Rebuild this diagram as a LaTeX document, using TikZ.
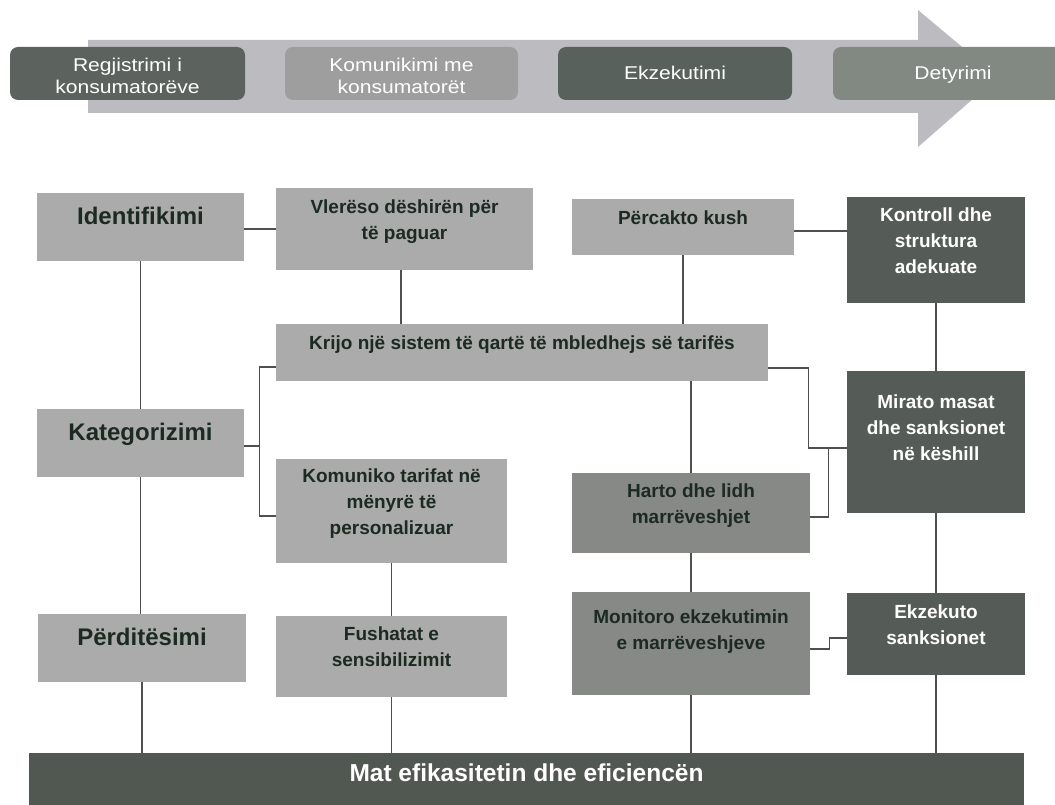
\documentclass[tikz,border=0pt]{standalone}
\usepackage{fontspec}
\setmainfont{Liberation Sans}
\definecolor{lightf}{HTML}{ABABAB}
\definecolor{midf}{HTML}{878987}
\definecolor{darkf}{HTML}{555B56}
\definecolor{matf}{HTML}{515852}
\definecolor{darktext}{HTML}{1C2A22}
\definecolor{linec}{HTML}{4F4F4F}
\definecolor{bandc}{HTML}{BCBCC0}
\definecolor{topa}{HTML}{5C635E}
\definecolor{topb}{HTML}{9E9E9E}
\definecolor{topc}{HTML}{58615B}
\definecolor{topd}{HTML}{828882}
\newcommand\bt[2][3.5pt]{\raisebox{#1}[0pt][0pt]{\begin{tabular}{@{}c@{}}#2\end{tabular}}}
\newcommand\toptxt[2][-6pt]{\raisebox{#1}[0pt][0pt]{\scalebox{1.14}[1]{\begin{tabular}{@{}c@{}}#2\end{tabular}}}}
\tikzset{
  conn/.style={draw=linec, line width=1.3pt},
  bx/.style={rectangle, inner sep=0pt, font=\bfseries\fontsize{19}{26}\selectfont},
  lt/.style={bx, fill=lightf, text=darktext},
  md/.style={bx, fill=midf, text=darktext},
  dk/.style={bx, fill=darkf, text=white},
  big/.style={font=\bfseries\fontsize{24}{29}\selectfont},
  tbox/.style={rectangle, rounded corners=8pt, inner sep=0pt, minimum height=53pt, text=white, font=\fontsize{18.5}{22}\selectfont},
}
\begin{document}
\begin{tikzpicture}[x=1pt,y=-1pt]
\useasboundingbox (0,0) rectangle (1055,805);
% top process arrow
\fill[bandc] (88,40) -- (918,40) -- (918,10) -- (998,77) -- (918,147) -- (918,113) -- (88,113) -- cycle;
\node[tbox, fill=topa, minimum width=235pt] (t1) at (127.5,73.5) {\toptxt[-8.5pt]{Regjistrimi i\\konsumatorëve}};
\node[tbox, fill=topb, minimum width=233pt] (t2) at (401.5,73.5) {\toptxt[-8.5pt]{Komunikimi me\\konsumatorët}};
\node[tbox, fill=topc, minimum width=234pt] (t3) at (675,73.5) {\toptxt{Ekzekutimi}};
\node[tbox, fill=topd, minimum width=240pt] (t4) at (953,73.5) {\toptxt{Detyrimi}};
% boxes
\node[lt,big,minimum width=207pt,minimum height=68pt] (ident) at (140.5,227) {\bt[2pt]{Identifikimi}};
\node[lt,big,minimum width=207pt,minimum height=68pt] (kat) at (140.5,443) {\bt[2pt]{Kategorizimi}};
\node[lt,big,minimum width=208pt,minimum height=68pt] (perd) at (142,648) {\bt[2pt]{Përditësimi}};
\node[lt,minimum width=257pt,minimum height=82pt] (vler) at (404.5,229) {\bt{Vlerëso dëshirën për\\të paguar}};
\node[lt,minimum width=492pt,minimum height=57pt] (krijo) at (522,352.5) {\bt{Krijo një sistem të qartë të mbledhejs së tarifës}};
\node[lt,minimum width=231pt,minimum height=104pt] (komu) at (391.5,511) {\bt{Komuniko tarifat në\\mënyrë të\\personalizuar}};
\node[lt,minimum width=231pt,minimum height=81pt] (fush) at (391.5,656.5) {\bt{Fushatat e\\sensibilizimit}};
\node[lt,minimum width=222pt,minimum height=56pt] (perc) at (683,227) {\bt{Përcakto kush}};
\node[md,minimum width=238pt,minimum height=80pt] (harto) at (691,513) {\bt{Harto dhe lidh\\marrëveshjet}};
\node[md,minimum width=238pt,minimum height=103pt] (monit) at (691,643.5) {\bt[8pt]{Monitoro ekzekutimin\\e marrëveshjeve}};
\node[dk,minimum width=178pt,minimum height=106pt] (kontr) at (936,250) {\bt{Kontroll dhe\\struktura\\adekuate}};
\node[dk,minimum width=178pt,minimum height=142pt] (mir) at (936,442) {\bt[8pt]{Mirato masat\\dhe sanksionet\\në këshill}};
\node[dk,minimum width=178pt,minimum height=82pt] (ekz) at (936,634) {\bt{Ekzekuto\\sanksionet}};
\node[bx,fill=matf,text=white,font=\bfseries\fontsize{24.5}{29}\selectfont,minimum width=995pt,minimum height=52pt] (mat) at (526.5,779) {\bt[-3pt]{Mat efikasitetin dhe eficiencën}};
% connectors
\coordinate (brk) at (260,446);
\draw[conn] (vler.west) -- (vler.west -| ident.east);
\draw[conn] (ident.south) -- (ident.south |- kat.north);
\draw[conn] (kat.south) -- (kat.south |- perd.north);
\draw[conn] (perd.south) -- (perd.south |- mat.north);
\draw[conn] ([xshift=-3.5pt]vler.south) -- ([xshift=-3.5pt]vler.south |- krijo.north);
\draw[conn] ([yshift=-3pt]kat.east) -- (brk);
\draw[conn] ([yshift=-14.5pt]krijo.west) -- ++(-16,0) |- ([yshift=-5pt]komu.west);
\draw[conn] (komu.south) -- (komu.south |- fush.north);
\draw[conn] (fush.south) -- (fush.south |- mat.north);
\draw[conn] (perc.south) -- (perc.south |- krijo.north);
\draw[conn] ([yshift=-4pt]perc.east) -- ([yshift=-4pt]perc.east -| kontr.west);
\draw[conn] (kontr.south) -- (mir.north);
\draw[conn] (krijo.south -| harto.north) -- (harto.north);
\draw[conn] ([yshift=-15.5pt]krijo.east) -- ++(40,0) |- ([yshift=-6pt]mir.west);
\draw[conn] ([yshift=-4pt]harto.east) -- ++(18,0) |- ([yshift=-6pt]mir.west);
\draw[conn] (harto.south) -- (monit.north);
\draw[conn] ([yshift=-5.5pt]monit.east) -- ++(19,0) |- ([yshift=-4pt]ekz.west);
\draw[conn] (mir.south) -- (ekz.north);
\draw[conn] (monit.south) -- (monit.south |- mat.north);
\draw[conn] (ekz.south) -- (ekz.south |- mat.north);
\end{tikzpicture}
\end{document}
